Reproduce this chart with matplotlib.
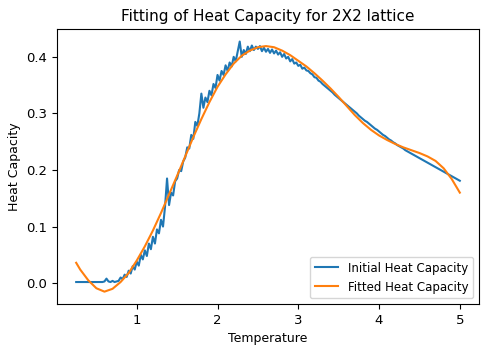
import matplotlib

matplotlib.use("Agg")

import matplotlib.pyplot as plt  # noqa: E402
import numpy as np  # noqa: E402

# ---------------------------------------------------------------------------
# Data
# ---------------------------------------------------------------------------
# simulated heat capacity, sampled every 0.025 from T=0.25 to T=5.0
INITIAL_T = np.linspace(0.25, 5.0, 191)
INITIAL_LOW = [  # 0.250 .. 0.775
    0.002, 0.002, 0.002, 0.002, 0.002, 0.002, 0.002, 0.002, 0.002, 0.002,
    0.002, 0.002, 0.002, 0.002, 0.003, 0.008, 0.003, 0.002, 0.004, 0.002,
    0.003, 0.004,
]
INITIAL_RISE = [  # 0.800 .. 1.400
    0.010, 0.007, 0.015, 0.011, 0.022, 0.017, 0.030, 0.024, 0.038, 0.031,
    0.050, 0.042, 0.058, 0.048, 0.070, 0.060, 0.082, 0.070, 0.095, 0.088,
    0.112, 0.100, 0.135, 0.185, 0.138,
]
INITIAL_PEAK = [  # 1.425 .. 3.500
    0.160, 0.155, 0.180, 0.185, 0.200, 0.198, 0.215, 0.222, 0.240, 0.238,
    0.262, 0.255, 0.285, 0.278, 0.300, 0.335, 0.310, 0.328, 0.320, 0.340,
    0.332, 0.352, 0.345, 0.368, 0.358, 0.375, 0.368, 0.385, 0.375, 0.390,
    0.383, 0.400, 0.392, 0.410, 0.427, 0.400, 0.412, 0.405, 0.418, 0.410,
    0.420, 0.412, 0.418, 0.414, 0.419, 0.410, 0.416, 0.409, 0.414, 0.407,
    0.413, 0.406, 0.411, 0.404, 0.408, 0.400, 0.405, 0.397, 0.400, 0.392,
    0.396, 0.388, 0.390, 0.384, 0.386, 0.379, 0.381, 0.376, 0.375, 0.371,
    0.369, 0.364, 0.363, 0.358, 0.356, 0.352, 0.349, 0.346, 0.343, 0.340,
    0.337, 0.333, 0.330, 0.327,
]
INITIAL_TAIL = [  # 3.525 .. 5.000
    0.324, 0.321, 0.318, 0.315, 0.312, 0.309, 0.306, 0.303, 0.300, 0.296,
    0.293, 0.290, 0.287, 0.285, 0.282, 0.279, 0.276, 0.273, 0.271, 0.268,
    0.265, 0.262, 0.260, 0.257, 0.254, 0.252, 0.249, 0.247, 0.244, 0.242,
    0.240, 0.238, 0.235, 0.233, 0.231, 0.229, 0.227, 0.225, 0.223, 0.221,
    0.219, 0.217, 0.215, 0.213, 0.211, 0.209, 0.207, 0.205, 0.203, 0.201,
    0.199, 0.197, 0.195, 0.193, 0.191, 0.189, 0.187, 0.185, 0.183, 0.181,
]
INITIAL_C = INITIAL_LOW + INITIAL_RISE + INITIAL_PEAK + INITIAL_TAIL

# fitted curve, sampled every 0.1 (first point at 0.25)
FITTED_T = [
    0.25, 0.3, 0.4, 0.5, 0.6, 0.7, 0.8, 0.9, 1.0, 1.1, 1.2, 1.3, 1.4, 1.5,
    1.6, 1.7, 1.8, 1.9, 2.0, 2.1, 2.2, 2.3, 2.4, 2.5, 2.6, 2.7, 2.8, 2.9,
    3.0, 3.1, 3.2, 3.3, 3.4, 3.5, 3.6, 3.7, 3.8, 3.9, 4.0, 4.1, 4.2, 4.3,
    4.4, 4.5, 4.6, 4.7, 4.8, 4.9, 5.0,
]
FITTED_C = [
    0.036, 0.024, 0.005, -0.009, -0.015, -0.010, 0.002, 0.018, 0.040, 0.065,
    0.093, 0.124, 0.157, 0.190, 0.224, 0.258, 0.290, 0.320, 0.347, 0.369,
    0.388, 0.402, 0.411, 0.417, 0.419, 0.417, 0.411, 0.403, 0.393, 0.383,
    0.371, 0.358, 0.344, 0.329, 0.313, 0.297, 0.283, 0.271, 0.261, 0.253,
    0.246, 0.240, 0.235, 0.230, 0.224, 0.216, 0.203, 0.184, 0.160,
]

# ---------------------------------------------------------------------------
# Plot
# ---------------------------------------------------------------------------
plt.rcParams["font.size"] = 9

fig = plt.figure(figsize=(5, 3.5), dpi=100)
ax = fig.add_axes([0.114, 0.131, 0.844, 0.786])

ax.plot(INITIAL_T, INITIAL_C, color="#1f77b4", linewidth=1.5,
        label="Initial Heat Capacity")
ax.plot(FITTED_T, FITTED_C, color="#ff7f0e", linewidth=1.5,
        label="Fitted Heat Capacity")

ax.set_title("Fitting of Heat Capacity for 2X2 lattice", fontsize=11)
ax.set_xlabel("Temperature")
ax.set_ylabel("Heat Capacity")
ax.tick_params(labelsize=9.5)
ax.legend(loc="lower right", fontsize=8.5)

fig.savefig("out.png", dpi=100)
